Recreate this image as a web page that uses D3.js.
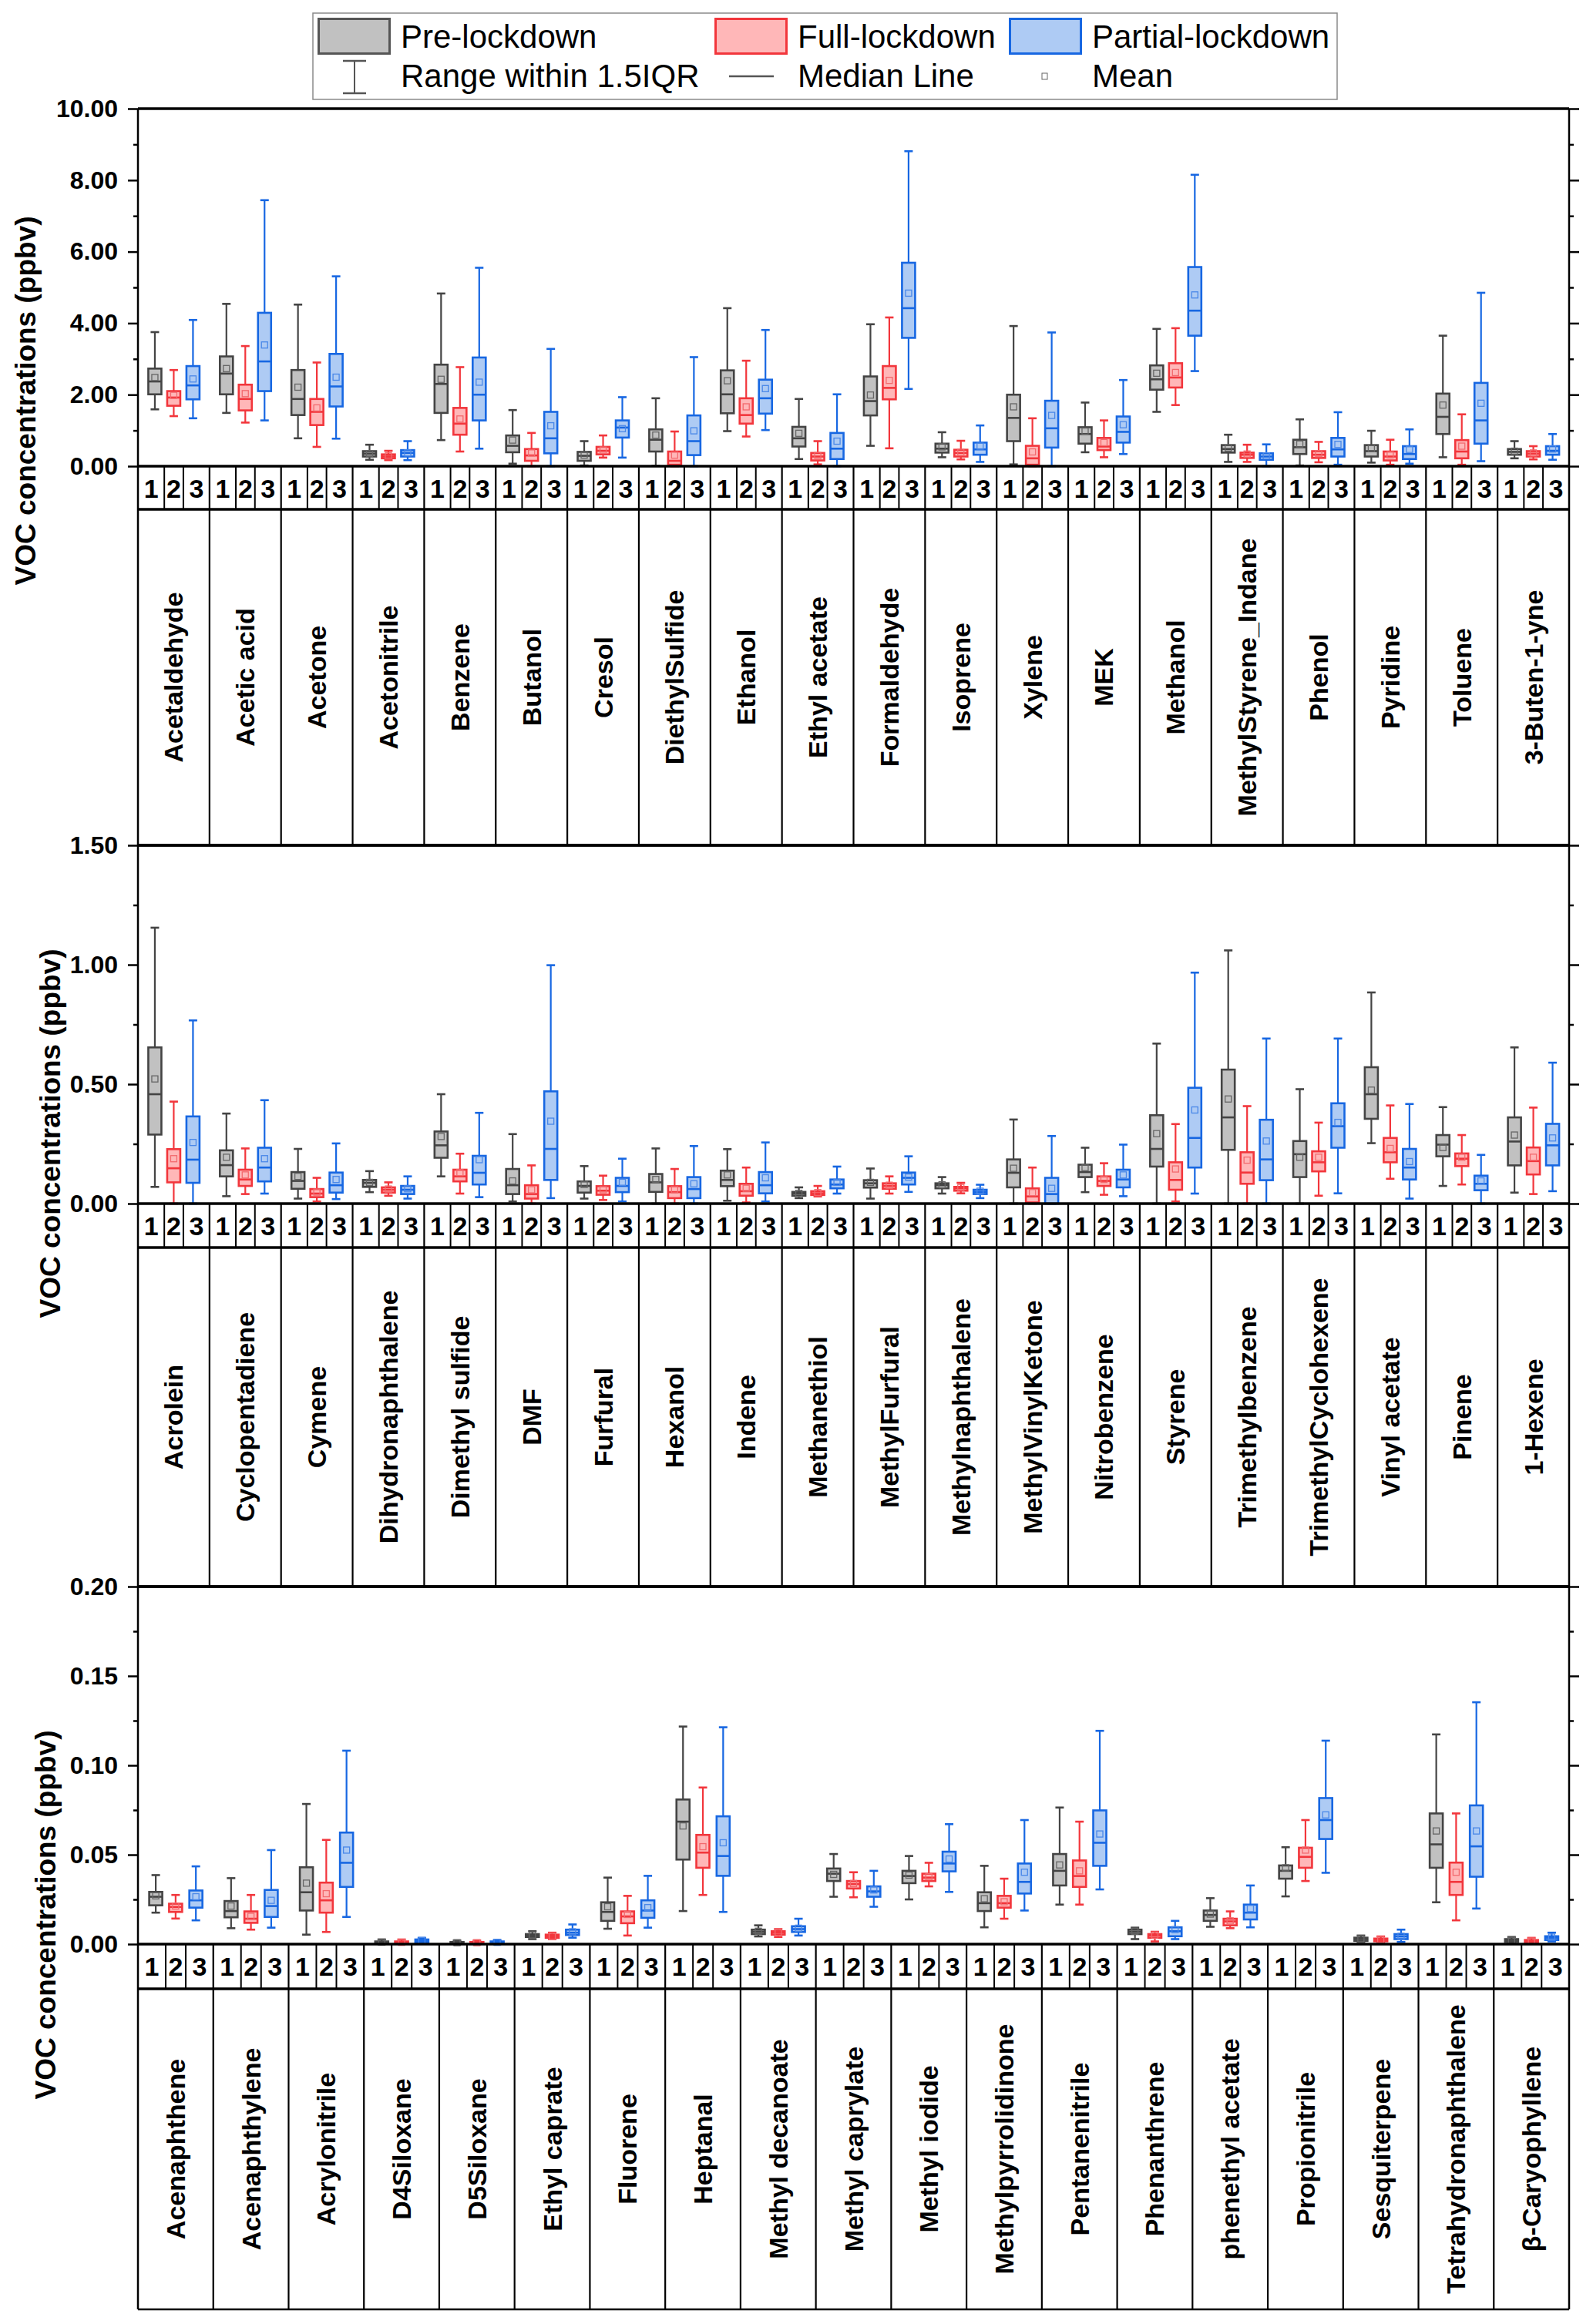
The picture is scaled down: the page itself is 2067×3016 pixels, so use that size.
<!DOCTYPE html>
<html><head><meta charset="utf-8">
<script src="https://cdn.jsdelivr.net/npm/d3@7"></script>
<style>
body{margin:0;background:#fff}
svg{display:block}
text{font-family:"Liberation Sans",Arial,Helvetica,sans-serif}
</style>
</head><body>
<svg id="chart" width="2067" height="3016"></svg>
<script>
// ---------------- DATA ----------------
// each box: [lowWhisker, Q1, median, Q3, highWhisker, mean]  (ppbv)
const seriesNames = ["Pre-lockdown", "Full-lockdown", "Partial-lockdown"];
const subLabels = ["1", "2", "3"];
const legendExtra = ["Range within 1.5IQR", "Median Line", "Mean"];
const yTitle = "VOC concentrations (ppbv)";

const categories1 = ["Acetaldehyde","Acetic acid","Acetone","Acetonitrile","Benzene","Butanol","Cresol","DiethylSulfide","Ethanol","Ethyl acetate","Formaldehyde","Isoprene","Xylene","MEK","Methanol","MethylStyrene_Indane","Phenol","Pyridine","Toluene","3-Buten-1-yne"];
const pre1 = [
 [1.59,2.01,2.37,2.73,3.75,2.48],[1.49,2.01,2.59,3.07,4.54,2.73],[0.78,1.43,1.88,2.69,4.52,2.21],[0.18,0.27,0.35,0.42,0.60,0.35],
 [0.73,1.49,2.30,2.84,4.83,2.43],[0.07,0.39,0.57,0.86,1.57,0.73],[0.02,0.15,0.29,0.40,0.70,0.31],[0.01,0.41,0.74,1.03,1.90,0.87],
 [0.98,1.48,2.01,2.68,4.42,2.39],[0.20,0.55,0.78,1.10,1.88,0.92],[0.57,1.42,1.82,2.51,3.97,1.99],[0.25,0.38,0.49,0.63,0.95,0.54],
 [0.05,0.70,1.35,2.00,3.92,1.66],[0.39,0.63,0.90,1.09,1.78,0.98],[1.52,2.14,2.43,2.82,3.84,2.60],[0.12,0.38,0.48,0.59,0.88,0.51],
 [0.02,0.34,0.53,0.74,1.31,0.62],[0.10,0.27,0.42,0.59,0.99,0.49],[0.25,0.90,1.38,2.03,3.65,1.71],[0.22,0.32,0.40,0.48,0.70,0.42]];
const full1 = [
 [1.40,1.69,1.92,2.10,2.69,1.98],[1.22,1.56,1.88,2.28,3.36,2.03],[0.54,1.15,1.52,1.88,2.90,1.63],[0.17,0.22,0.27,0.33,0.43,0.29],
 [0.41,0.88,1.19,1.63,2.77,1.32],[0.00,0.15,0.30,0.48,0.93,0.37],[0.24,0.33,0.43,0.54,0.86,0.45],[0.00,0.04,0.15,0.41,0.97,0.31],
 [0.83,1.19,1.43,1.90,2.95,1.66],[0.05,0.16,0.27,0.37,0.70,0.30],[0.50,1.87,2.19,2.80,4.16,2.40],[0.19,0.27,0.37,0.46,0.71,0.39],
 [0.00,0.04,0.22,0.57,1.34,0.40],[0.25,0.45,0.55,0.79,1.28,0.66],[1.71,2.20,2.48,2.88,3.86,2.62],[0.12,0.23,0.32,0.38,0.60,0.34],
 [0.11,0.23,0.32,0.42,0.68,0.35],[0.04,0.16,0.27,0.41,0.74,0.32],[0.04,0.22,0.41,0.73,1.45,0.56],[0.19,0.27,0.35,0.42,0.56,0.37]];
const part1 = [
 [1.34,1.87,2.26,2.80,4.09,2.44],[1.28,2.10,2.93,4.29,7.44,3.39],[0.77,1.67,2.23,3.14,5.31,2.49],[0.17,0.27,0.37,0.45,0.70,0.37],
 [0.49,1.28,2.00,3.04,5.55,2.35],[0.00,0.36,0.78,1.52,3.28,1.13],[0.24,0.80,1.08,1.28,1.93,1.05],[0.00,0.31,0.70,1.42,3.05,0.99],
 [1.01,1.47,1.90,2.42,3.81,2.17],[0.00,0.20,0.49,0.93,2.01,0.70],[2.16,3.59,4.42,5.69,8.81,4.84],[0.12,0.32,0.47,0.66,1.14,0.56],
 [0.00,0.52,1.06,1.83,3.74,1.42],[0.34,0.66,0.96,1.39,2.41,1.16],[2.66,3.65,4.35,5.57,8.15,4.79],[0.00,0.18,0.27,0.36,0.61,0.29],
 [0.04,0.27,0.47,0.79,1.51,0.61],[0.07,0.20,0.34,0.56,1.03,0.47],[0.14,0.63,1.28,2.33,4.85,1.76],[0.18,0.32,0.43,0.56,0.90,0.48]];

const categories2 = ["Acrolein","Cyclopentadiene","Cymene","Dihydronaphthalene","Dimethyl sulfide","DMF","Furfural","Hexanol","Indene","Methanethiol","MethylFurfural","Methylnaphthalene","MethylVinylKetone","Nitrobenzene","Styrene","Trimethylbenzene","TrimethylCyclohexene","Vinyl acetate","Pinene","1-Hexene"];
const pre2 = [
 [0.070,0.289,0.458,0.654,1.155,0.522],[0.031,0.114,0.161,0.223,0.377,0.194],[0.021,0.062,0.095,0.132,0.229,0.114],[0.048,0.070,0.087,0.099,0.136,0.089],
 [0.114,0.192,0.244,0.302,0.458,0.281],[0.009,0.040,0.077,0.145,0.291,0.095],[0.021,0.046,0.074,0.093,0.157,0.080],[0.000,0.049,0.089,0.124,0.231,0.101],
 [0.012,0.073,0.099,0.138,0.228,0.120],[0.023,0.033,0.042,0.049,0.068,0.043],[0.021,0.067,0.085,0.098,0.147,0.089],[0.042,0.064,0.077,0.085,0.111,0.079],
 [0.000,0.068,0.129,0.185,0.352,0.148],[0.048,0.111,0.132,0.163,0.234,0.151],[0.000,0.155,0.229,0.370,0.670,0.293],[0.000,0.225,0.361,0.561,1.060,0.438],
 [0.000,0.111,0.207,0.262,0.479,0.194],[0.253,0.355,0.458,0.571,0.884,0.475],[0.074,0.198,0.247,0.287,0.404,0.235],[0.046,0.160,0.260,0.361,0.654,0.287]];
const full2 = [
 [0.000,0.089,0.148,0.228,0.427,0.188],[0.040,0.074,0.101,0.142,0.231,0.120],[0.009,0.027,0.042,0.061,0.108,0.048],[0.033,0.046,0.058,0.068,0.089,0.061],
 [0.042,0.093,0.114,0.142,0.209,0.130],[0.000,0.021,0.040,0.077,0.160,0.058],[0.015,0.037,0.054,0.073,0.117,0.058],[0.000,0.023,0.048,0.073,0.145,0.058],
 [0.005,0.033,0.052,0.083,0.151,0.064],[0.030,0.036,0.043,0.052,0.074,0.046],[0.042,0.062,0.074,0.085,0.114,0.077],[0.043,0.054,0.064,0.070,0.087,0.067],
 [0.000,0.005,0.030,0.064,0.151,0.046],[0.037,0.074,0.095,0.114,0.169,0.101],[0.009,0.058,0.099,0.173,0.333,0.145],[0.000,0.083,0.130,0.215,0.408,0.182],
 [0.033,0.135,0.173,0.219,0.339,0.194],[0.104,0.173,0.215,0.275,0.411,0.231],[0.080,0.157,0.188,0.210,0.287,0.194],[0.040,0.122,0.178,0.235,0.402,0.194]];
const part2 = [
 [0.000,0.087,0.184,0.365,0.767,0.256],[0.042,0.093,0.151,0.234,0.433,0.188],[0.019,0.046,0.077,0.130,0.252,0.101],[0.021,0.040,0.058,0.074,0.114,0.062],
 [0.027,0.080,0.129,0.200,0.380,0.184],[0.023,0.099,0.229,0.470,0.998,0.345],[0.009,0.048,0.074,0.108,0.188,0.089],[0.000,0.023,0.061,0.111,0.241,0.083],
 [0.009,0.043,0.077,0.132,0.256,0.108],[0.042,0.064,0.080,0.101,0.155,0.089],[0.049,0.080,0.108,0.130,0.198,0.111],[0.023,0.040,0.049,0.058,0.079,0.052],
 [0.000,0.000,0.040,0.108,0.283,0.064],[0.031,0.068,0.101,0.142,0.247,0.120],[0.042,0.151,0.275,0.485,0.967,0.392],[0.000,0.098,0.185,0.351,0.691,0.262],
 [0.043,0.234,0.324,0.420,0.691,0.340],[0.021,0.101,0.151,0.229,0.417,0.176],[0.000,0.056,0.083,0.117,0.204,0.095],[0.052,0.160,0.244,0.334,0.590,0.275]];

const categories3 = ["Acenaphthene","Acenaphthylene","Acrylonitrile","D4Siloxane","D5Siloxane","Ethyl caprate","Fluorene","Heptanal","Methyl decanoate","Methyl caprylate","Methyl iodide","Methylpyrrolidinone","Pentanenitrile","Phenanthrene","phenethyl acetate","Propionitrile","Sesquiterpene","Tetrahydronaphthalene","β-Caryophyllene"];
const pre3 = [
 [0.0176,0.0217,0.0265,0.0292,0.0386,0.0270],[0.0089,0.0150,0.0185,0.0241,0.0369,0.0213],[0.0053,0.0188,0.0290,0.0430,0.0784,0.0341],[0.0000,0.0005,0.0010,0.0015,0.0026,0.0011],
 [0.0000,0.0003,0.0007,0.0012,0.0020,0.0008],[0.0028,0.0040,0.0048,0.0056,0.0072,0.0051],[0.0086,0.0130,0.0180,0.0234,0.0372,0.0209],[0.0185,0.0473,0.0685,0.0809,0.1217,0.0661],
 [0.0043,0.0056,0.0069,0.0081,0.0105,0.0072],[0.0265,0.0353,0.0394,0.0423,0.0504,0.0390],[0.0250,0.0341,0.0381,0.0410,0.0493,0.0386],[0.0094,0.0185,0.0229,0.0290,0.0438,0.0254],
 [0.0221,0.0328,0.0410,0.0504,0.0764,0.0443],[0.0028,0.0056,0.0069,0.0081,0.0092,0.0072],[0.0097,0.0130,0.0163,0.0188,0.0257,0.0168],[0.0267,0.0366,0.0410,0.0440,0.0542,0.0427],
 [0.0012,0.0018,0.0028,0.0036,0.0048,0.0030],[0.0234,0.0427,0.0558,0.0731,0.1173,0.0633],[0.0007,0.0012,0.0020,0.0028,0.0040,0.0021]];
const full3 = [
 [0.0143,0.0180,0.0208,0.0226,0.0275,0.0213],[0.0081,0.0119,0.0142,0.0183,0.0275,0.0155],[0.0068,0.0176,0.0245,0.0344,0.0583,0.0282],[0.0002,0.0005,0.0008,0.0015,0.0026,0.0010],
 [0.0000,0.0003,0.0007,0.0012,0.0020,0.0008],[0.0028,0.0035,0.0043,0.0053,0.0064,0.0044],[0.0048,0.0117,0.0155,0.0183,0.0270,0.0166],[0.0275,0.0427,0.0512,0.0611,0.0876,0.0545],
 [0.0040,0.0053,0.0064,0.0072,0.0084,0.0065],[0.0262,0.0311,0.0336,0.0353,0.0402,0.0339],[0.0323,0.0353,0.0372,0.0394,0.0455,0.0377],[0.0142,0.0204,0.0229,0.0270,0.0366,0.0237],
 [0.0221,0.0320,0.0381,0.0468,0.0685,0.0410],[0.0015,0.0035,0.0048,0.0056,0.0069,0.0050],[0.0089,0.0105,0.0127,0.0142,0.0183,0.0130],[0.0353,0.0427,0.0488,0.0539,0.0694,0.0526],
 [0.0010,0.0016,0.0025,0.0031,0.0043,0.0026],[0.0133,0.0275,0.0348,0.0456,0.0731,0.0402],[0.0005,0.0010,0.0016,0.0023,0.0035,0.0017]];
const part3 = [
 [0.0133,0.0204,0.0245,0.0300,0.0435,0.0265],[0.0092,0.0152,0.0213,0.0303,0.0526,0.0245],[0.0152,0.0320,0.0455,0.0624,0.1082,0.0526],[0.0003,0.0010,0.0018,0.0026,0.0035,0.0020],
 [0.0000,0.0005,0.0008,0.0015,0.0023,0.0010],[0.0036,0.0051,0.0064,0.0081,0.0110,0.0069],[0.0092,0.0147,0.0188,0.0245,0.0382,0.0204],[0.0180,0.0382,0.0493,0.0715,0.1213,0.0567],
 [0.0048,0.0068,0.0084,0.0100,0.0142,0.0089],[0.0209,0.0265,0.0295,0.0323,0.0410,0.0303],[0.0292,0.0407,0.0451,0.0517,0.0671,0.0476],[0.0188,0.0283,0.0348,0.0451,0.0694,0.0402],
 [0.0306,0.0438,0.0567,0.0748,0.1193,0.0616],[0.0028,0.0044,0.0072,0.0094,0.0130,0.0081],[0.0094,0.0138,0.0176,0.0221,0.0328,0.0199],[0.0399,0.0588,0.0694,0.0817,0.1138,0.0723],
 [0.0012,0.0028,0.0043,0.0056,0.0081,0.0044],[0.0199,0.0377,0.0547,0.0776,0.1353,0.0633],[0.0015,0.0023,0.0036,0.0044,0.0064,0.0039]];

const yTicks1 = [0, 2, 4, 6, 8, 10], yMinor1 = [1, 3, 5, 7, 9];
const yTicks2 = [0, 0.5, 1.0, 1.5], yMinor2 = [0.25, 0.75, 1.25];
const yTicks3 = [0, 0.05, 0.10, 0.15, 0.20], yMinor3 = [0.025, 0.075, 0.125, 0.175];

// ---------------- STYLE / LAYOUT ----------------
const colors = [
  {fill: "#c1c1c1", stroke: "#444444", mean: "#666666"},
  {fill: "#ffb7b8", stroke: "#f2363c", mean: "#f36a6e"},
  {fill: "#aecbf4", stroke: "#1767e2", mean: "#4a88e8"}
];
const X0 = 179, X1 = 2036;
const panels = [
  {cats: categories1, data: [pre1, full1, part1], max: 10, ticks: yTicks1, minor: yMinor1,
   top: 141, zero: 605, numB: 661, labB: 1097, titleX: 46, titleY: 520},
  {cats: categories2, data: [pre2, full2, part2], max: 1.5, ticks: yTicks2, minor: yMinor2,
   top: 1097, zero: 1562, numB: 1619, labB: 2059, titleX: 78, titleY: 1471},
  {cats: categories3, data: [pre3, full3, part3], max: 0.2, ticks: yTicks3, minor: yMinor3,
   top: 2059, zero: 2523, numB: 2581, labB: 2997, titleX: 72, titleY: 2485}
];
const subOff = [-24.5, 0, 25]; // px at band width 92.9
const boxW = 17, capW = 11;

const svg = d3.select("#chart");
svg.append("rect").attr("width", 2067).attr("height", 3016).attr("fill", "#fff");

panels.forEach((p, pi) => {
  const g = svg.append("g");
  const x = d3.scaleBand().domain(p.cats).range([X0, X1]).paddingInner(0).paddingOuter(0);
  const bw = x.bandwidth();
  const y = d3.scaleLinear().domain([0, p.max]).range([p.zero, p.top]);
  const subX = (cat, s) => x(cat) + bw / 2 + subOff[s] * bw / 92.9;

  // boxes
  p.data.forEach((series, s) => {
    const c = colors[s];
    const gs = g.append("g");
    series.forEach((d, i) => {
      const cat = p.cats[i];
      const cx = subX(cat, s);
      const [lo, q1, med, q3, hi, mean] = d;
      const b = gs.append("g");
      b.append("line").attr("x1", cx).attr("x2", cx).attr("y1", y(lo)).attr("y2", y(hi))
        .attr("stroke", c.stroke).attr("stroke-width", 2.2);
      [lo, hi].forEach(v => {
        b.append("line").attr("x1", cx - capW / 2).attr("x2", cx + capW / 2).attr("y1", y(v)).attr("y2", y(v))
          .attr("stroke", c.stroke).attr("stroke-width", 2.6);
      });
      b.append("rect").attr("x", cx - boxW / 2).attr("width", boxW)
        .attr("y", y(q3)).attr("height", Math.max(0.5, y(q1) - y(q3)))
        .attr("fill", c.fill).attr("stroke", c.stroke).attr("stroke-width", 2.6);
      b.append("line").attr("x1", cx - boxW / 2).attr("x2", cx + boxW / 2).attr("y1", y(med)).attr("y2", y(med))
        .attr("stroke", c.stroke).attr("stroke-width", 2.6);
      b.append("rect").attr("x", cx - 4).attr("y", y(mean) - 4).attr("width", 8).attr("height", 8)
        .attr("fill", "none").attr("stroke", c.mean).attr("stroke-width", 1.3);
    });
  });

  // left axis
  const ax = g.append("g").attr("transform", `translate(${X0},0)`)
    .call(d3.axisLeft(y).tickValues(p.ticks).tickFormat(d3.format(".2f")).tickSize(13).tickPadding(13));
  ax.select(".domain").remove();
  ax.selectAll("line").attr("stroke", "#000").attr("stroke-width", 2.5);
  ax.selectAll("text").attr("font-size", 32).attr("font-weight", "bold").attr("fill", "#000")
    .attr("font-family", "'Liberation Sans', Arial, sans-serif");
  const axm = g.append("g").attr("transform", `translate(${X0},0)`)
    .call(d3.axisLeft(y).tickValues(p.minor).tickFormat("").tickSize(6));
  axm.select(".domain").remove();
  axm.selectAll("line").attr("stroke", "#000").attr("stroke-width", 2.5);
  // right axis ticks
  const ar = g.append("g").attr("transform", `translate(${X1},0)`)
    .call(d3.axisRight(y).tickValues(p.ticks).tickFormat("").tickSize(13));
  ar.select(".domain").remove();
  ar.selectAll("line").attr("stroke", "#000").attr("stroke-width", 2.5);
  const arm = g.append("g").attr("transform", `translate(${X1},0)`)
    .call(d3.axisRight(y).tickValues(p.minor).tickFormat("").tickSize(6));
  arm.select(".domain").remove();
  arm.selectAll("line").attr("stroke", "#000").attr("stroke-width", 2.5);

  // frame lines
  const L = (x1, y1, x2, y2, w) => g.append("line").attr("x1", x1).attr("y1", y1).attr("x2", x2).attr("y2", y2)
    .attr("stroke", "#000").attr("stroke-width", w);
  L(X0, p.top, X0, p.labB, 2.5);
  L(X1, p.top, X1, p.labB, 2.5);
  L(X0, p.top, X1, p.top, 3.5);
  L(X0, p.zero, X1, p.zero, 3.5);
  L(X0, p.numB, X1, p.numB, 3.5);
  L(X0, p.labB, X1, p.labB, pi === 2 ? 2.5 : 3.5);

  p.cats.forEach((cat, i) => {
    const left = x(cat);
    if (i > 0) L(left, p.zero, left, p.labB, 2.2);
    const cxs = [0, 1, 2].map(s => subX(cat, s));
    const seps = [(cxs[0] + cxs[1]) / 2, (cxs[1] + cxs[2]) / 2];
    seps.forEach(sx => L(sx, p.zero, sx, p.numB, 2));
    const bounds = [left, seps[0], seps[1], left + bw];
    subLabels.forEach((t, s) => {
      g.append("text").attr("x", (bounds[s] + bounds[s + 1]) / 2).attr("y", p.zero + 41)
        .attr("text-anchor", "middle").attr("font-size", 34).attr("font-weight", "bold").text(t);
    });
    g.append("text")
      .attr("transform", `translate(${left + bw / 2},${(p.numB + p.labB) / 2}) rotate(-90)`)
      .attr("text-anchor", "middle").attr("dominant-baseline", "central")
      .attr("font-size", 34).attr("font-weight", "bold").text(cat);
  });

  g.append("text").attr("transform", `translate(${p.titleX},${p.titleY}) rotate(-90)`)
    .attr("text-anchor", "middle").attr("font-size", 37).attr("font-weight", "bold").text(yTitle);
});

// ---------------- LEGEND ----------------
const lg = svg.append("g");
lg.append("rect").attr("x", 406).attr("y", 17).attr("width", 1329).attr("height", 112)
  .attr("fill", "#fff").attr("stroke", "#8a8a8a").attr("stroke-width", 1.5);
const patchX = [412, 927, 1309], textX = [520, 1035, 1417];
seriesNames.forEach((n, s) => {
  lg.append("rect").attr("x", patchX[s] + 1.5).attr("y", 24.5).attr("width", 92).attr("height", 45)
    .attr("fill", colors[s].fill).attr("stroke", s === 0 ? "#555" : colors[s].stroke).attr("stroke-width", 3);
  lg.append("text").attr("x", textX[s]).attr("y", 62).attr("font-size", 42).attr("fill", "#000").text(n);
});
// range symbol
lg.append("line").attr("x1", 460).attr("x2", 460).attr("y1", 79).attr("y2", 121).attr("stroke", "#555").attr("stroke-width", 2);
[79, 121].forEach(v => lg.append("line").attr("x1", 445).attr("x2", 475).attr("y1", v).attr("y2", v).attr("stroke", "#555").attr("stroke-width", 2.5));
lg.append("line").attr("x1", 946).attr("x2", 1004).attr("y1", 99).attr("y2", 99).attr("stroke", "#555").attr("stroke-width", 2.5);
lg.append("rect").attr("x", 1352).attr("y", 95).attr("width", 7).attr("height", 8).attr("fill", "none").attr("stroke", "#666").attr("stroke-width", 1);
legendExtra.forEach((t, k) => {
  lg.append("text").attr("x", textX[k]).attr("y", 113).attr("font-size", 42).attr("fill", "#000").text(t);
});
</script>
</body></html>
